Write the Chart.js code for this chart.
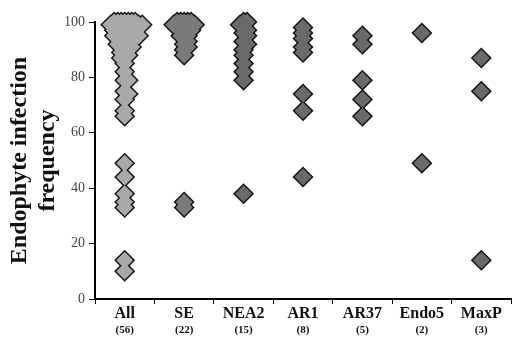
<!DOCTYPE html>
<html>
<head>
<meta charset="utf-8">
<script src="https://cdn.jsdelivr.net/npm/chart.js@4.4.0/dist/chart.umd.min.js"></script>
<style>
  html, body { margin: 0; padding: 0; background: #fff; }
</style>
</head>
<body>
<canvas id="chart" width="513" height="337"></canvas>
<script>
// categories and sample counts
const groups = ['All', 'SE', 'NEA2', 'AR1', 'AR37', 'Endo5', 'MaxP'];
const counts = ['(56)', '(22)', '(15)', '(8)', '(5)', '(2)', '(3)'];
const yTicks = [0, 20, 40, 60, 80, 100];

// infection frequency per population
const valSE = [100, 100, 100, 100, 100, 99, 99, 98, 98, 97, 97, 96, 95, 95, 94, 93, 92, 91, 90, 88, 35, 33];
const valNEA2 = [100, 100, 99, 98, 97, 96, 95, 93, 92, 90, 88, 85, 82, 79, 38];
const valAR1 = [98, 96, 94, 91, 89, 74, 68, 44];
const valAR37 = [95, 92, 79, 72, 66];
const valEndo5 = [96, 49];
const valMaxP = [87, 75, 14];
const valAll = [
  100, 100, 100, 100, 100, 99, 99, 98, 98, 97, 97, 96, 95, 95, 94, 93, 92, 91, 90, 88, 35, 33,
  100, 100, 99, 98, 97, 96, 95, 93, 92, 90, 88, 85, 82, 79, 38,
  98, 96, 94, 91, 89, 74, 68, 44,
  95, 92, 79, 72, 66,
  96, 49,
  87, 75, 14,
  10
];
const groupValues = [valAll, valSE, valNEA2, valAR1, valAR37, valEndo5, valMaxP];

// simple beeswarm so that overlapping diamonds spread sideways
const PX_X = 59.5;   // px per category
const PX_Y = 2.775;  // px per unit on y
const GAP = 3.5;
const STEP = 3.5;

function swarm(vals, center) {
  const placed = [];
  [...vals].sort((a, b) => b - a).forEach(v => {
    for (let k = 0; k < 50; k++) {
      const off = (k % 2 ? 1 : -1) * Math.ceil(k / 2) * STEP;
      const ok = placed.every(p => Math.abs(p.dx - off) + Math.abs(p.y - v) * PX_Y >= GAP);
      if (ok) { placed.push({ dx: off, y: v }); break; }
    }
  });
  return placed.map(p => ({ x: center + p.dx / PX_X, y: p.y }));
}

const fills = ['#a9a9a9', '#7a7a7a', '#6a6a6a', '#6a6a6a', '#6a6a6a', '#6a6a6a', '#6a6a6a'];

const datasets = [];
groupValues.forEach((vals, i) => {
  const pts = swarm(vals, i);
  // grey body on top
  datasets.push({
    label: groups[i],
    data: pts,
    pointStyle: 'rectRot',
    pointRadius: 8.5,
    pointBackgroundColor: fills[i],
    pointBorderWidth: 0,
    order: 1,
    clip: false
  });
  // black outline underneath
  datasets.push({
    label: groups[i] + ' outline',
    data: pts,
    pointStyle: 'rectRot',
    pointRadius: 10.5,
    pointBackgroundColor: '#111',
    pointBorderWidth: 0,
    order: 2,
    clip: false
  });
});

const serif = "'Liberation Serif', 'Times New Roman', serif";

new Chart(document.getElementById('chart'), {
  type: 'scatter',
  data: { datasets },
  options: {
    responsive: false,
    animation: false,
    events: [],
    layout: { autoPadding: false, padding: { top: 22, right: 2, left: 6, bottom: 0 } },
    plugins: { legend: { display: false }, tooltip: { enabled: false } },
    scales: {
      x: {
        type: 'linear',
        min: -0.5,
        max: 6.5,
        weight: 0,
        afterBuildTicks: s => {
          s.ticks = [];
          for (let v = -0.5; v <= 6.5; v += 0.5) s.ticks.push({ value: v });
        },
        afterFit: s => { s.height = 24; s.paddingLeft = 0; s.paddingRight = 0; },
        ticks: {
          autoSkip: false,
          maxRotation: 0,
          padding: 0,
          color: '#111',
          font: { family: serif, size: 16, weight: 'bold' },
          callback: v => Number.isInteger(v) ? groups[v] : ''
        },
        grid: {
          drawOnChartArea: false,
          tickLength: 5,
          color: c => Number.isInteger(c.tick && c.tick.value) ? 'rgba(0,0,0,0)' : '#000'
        },
        border: { color: '#000', width: 2 }
      },
      x2: {
        type: 'linear',
        position: 'bottom',
        min: -0.5,
        max: 6.5,
        weight: 1,
        afterBuildTicks: s => { s.ticks = groups.map((g, i) => ({ value: i })); },
        afterFit: s => { s.height = 14; s.paddingLeft = 0; s.paddingRight = 0; },
        ticks: {
          autoSkip: false,
          maxRotation: 0,
          padding: 1,
          color: '#111',
          font: { family: serif, size: 11, weight: 'bold' },
          callback: v => counts[v]
        },
        grid: { display: false, drawTicks: false, tickLength: 0 },
        border: { display: false }
      },
      y: {
        min: 0,
        max: 100,
        afterBuildTicks: s => { s.ticks = yTicks.map(v => ({ value: v })); },
        afterFit: s => { s.width = 89; },
        ticks: {
          padding: 4,
          color: '#444',
          font: { family: serif, size: 14 }
        },
        grid: { drawOnChartArea: false, tickLength: 6, color: '#000' },
        border: { color: '#000', width: 2 },
        title: {
          display: true,
          text: ['Endophyte infection', 'frequency'],
          color: '#111',
          padding: 0,
          font: { family: serif, size: 24, weight: 'bold', lineHeight: 1.15 }
        }
      }
    }
  }
});
</script>
</body>
</html>
